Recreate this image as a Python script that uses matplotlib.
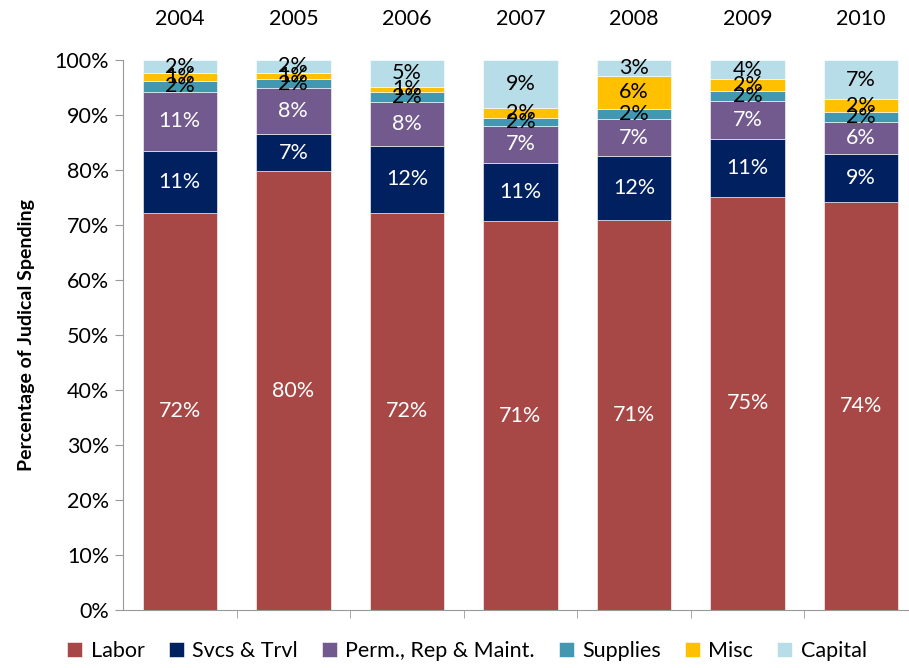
import numpy as np
from matplotlib import pyplot as plt

years = ['2004', '2005', '2006', '2007', '2008', '2009', '2010']
categories = ['Labor', 'Svcs & Trvl', 'Perm., Rep & Maint.', 'Supplies', 'Misc', 'Capital']

# share of judicial spending, percent
labor    = [72.2, 79.8, 72.2, 70.7, 70.9, 75.1, 74.2]
svcs     = [11.3,  6.7, 12.2, 10.6, 11.6, 10.6,  8.7]
perm     = [10.7,  8.4,  8.0,  6.7,  6.8,  6.8,  5.8]
supplies = [ 2.0,  1.6,  1.8,  1.5,  1.8,  1.9,  1.8]
misc     = [ 1.4,  1.2,  0.9,  1.8,  6.0,  2.1,  2.4]
capital  = [ 2.4,  2.3,  4.9,  8.7,  2.9,  3.5,  7.1]

series = [labor, svcs, perm, supplies, misc, capital]
colors = ['#A84846', '#002060', '#725A8E', '#4298B0', '#FFC000', '#B7DEE8']
label_colors = ['white', 'white', 'white', 'black', 'black', 'black']

plt.rcParams['font.family'] = ['Lato', 'DejaVu Sans']

fig = plt.figure(figsize=(9.09, 6.68), dpi=100)
ax = fig.add_axes([123 / 909, 58 / 668, 795 / 909, 550 / 668])

x = np.arange(len(years))
bottom = np.zeros(len(years))
handles = []
for vals, col, lc, name in zip(series, colors, label_colors, categories):
    vals = np.array(vals)
    b = ax.bar(x, vals, 0.655, bottom=bottom, color=col, edgecolor='white',
               linewidth=0.4, label=name)
    handles.append(b)
    for xi, v, bt in zip(x, vals, bottom):
        ax.text(xi, bt + v / 2, f'{round(v):d}%', ha='center', va='center',
                color=lc, fontsize=15.5)
    bottom += vals

ax.set_xlim(-0.5, len(years) - 0.5)
ax.set_ylim(0, 100)
ax.set_yticks(np.arange(0, 101, 10))
ax.set_yticklabels([f'{t}%' for t in range(0, 101, 10)], fontsize=15.5)
ax.set_xticks(x)
ax.set_xticklabels(years, fontsize=15.5)
ax.set_xticks(np.arange(0.5, len(years) - 0.5, 1), minor=True)
ax.tick_params(axis='x', which='major', bottom=False, top=False,
               labelbottom=False, labeltop=True, pad=19)
ax.tick_params(axis='x', which='minor', bottom=True, length=6, color='#999999')
ax.tick_params(axis='y', length=6, color='#999999', pad=4)

for s in ['top', 'right']:
    ax.spines[s].set_visible(False)
for s in ['left', 'bottom']:
    ax.spines[s].set_color('#999999')

ax.set_ylabel('Percentage of Judical Spending', fontsize=14, fontweight='bold',
              labelpad=14)

fig.legend(handles=handles, labels=categories, loc='center',
           bbox_to_anchor=(467 / 909, 17 / 668), ncol=6, frameon=False,
           fontsize=15.5, handlelength=0.7, handleheight=0.7,
           handletextpad=0.4, columnspacing=1.1)

fig.savefig('out.png', dpi=100)
